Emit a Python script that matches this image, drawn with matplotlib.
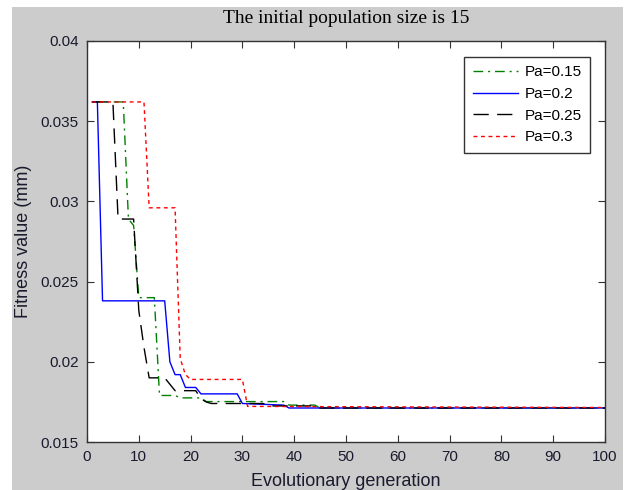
import matplotlib
matplotlib.use("Agg")
import matplotlib.pyplot as plt
from matplotlib.patches import Rectangle

# generations where each curve changes value, and the fitness read at them
gen_015 = [1, 7, 8, 9, 10, 13, 14, 17, 18, 22, 23, 38, 39, 44, 45, 100]
fit_015 = [0.0362, 0.0362, 0.0289, 0.0285, 0.0240, 0.0240, 0.0179, 0.0179,
           0.01775, 0.01775, 0.01752, 0.01752, 0.0173, 0.0173, 0.01712, 0.01712]

gen_02 = [1, 2, 3, 15, 16, 17, 18, 19, 21, 22, 29, 30, 38, 39, 100]
fit_02 = [0.0362, 0.0362, 0.0238, 0.0238, 0.0200, 0.0192, 0.0192, 0.0184,
          0.0184, 0.0180, 0.0180, 0.0174, 0.0173, 0.01712, 0.01712]

gen_025 = [1, 5, 6, 9, 10, 11, 12, 15, 16, 17, 21, 22, 23, 24, 34, 35, 44, 45, 100]
fit_025 = [0.0362, 0.0362, 0.0289, 0.0289, 0.0232, 0.0209, 0.0190, 0.0190,
           0.0186, 0.0182, 0.0182, 0.0177, 0.0175, 0.0174, 0.0174, 0.01725,
           0.01725, 0.01712, 0.01712]

gen_03 = [1, 11, 12, 17, 18, 19, 20, 30, 31, 100]
fit_03 = [0.0362, 0.0362, 0.0296, 0.0296, 0.0202, 0.0192, 0.0189, 0.0189,
          0.01722, 0.01715]

xticks = [0, 10, 20, 30, 40, 50, 60, 70, 80, 90, 100]
yticks = [0.015, 0.02, 0.025, 0.03, 0.035, 0.04]
ytick_labels = ["0.015", "0.02", "0.025", "0.03", "0.035", "0.04"]

sans = "Liberation Sans"
serif = "Liberation Serif"
txt_color = "#1a1a2e"

fig = plt.figure(figsize=(6.3, 4.9), dpi=100, facecolor="white")
# gray matlab-style figure panel with a thin white margin
fig.patches.append(Rectangle((12 / 630, 0), (623 - 12) / 630, 1 - 7 / 490,
                             transform=fig.transFigure, facecolor="#cccccc",
                             edgecolor="none", zorder=-10))
ax = fig.add_axes([87 / 630, 1 - 442 / 490, (605 - 87) / 630, (442 - 41) / 490])
ax.set_facecolor("white")

ax.plot(gen_015, fit_015, color="#008000", lw=1.0, dashes=(7, 3.5, 1.5, 3.5),
        label="Pa=0.15")
ax.plot(gen_02, fit_02, color="#0000ff", lw=1.0, label="Pa=0.2")
ax.plot(gen_025, fit_025, color="black", lw=1.0, dashes=(11, 6),
        label="Pa=0.25")
ax.plot(gen_03, fit_03, color="#ff0000", lw=1.0, dashes=(2.8, 2.6),
        label="Pa=0.3")

ax.set_xlim(0, 100)
ax.set_ylim(0.015, 0.04)
ax.set_xticks(xticks)
ax.set_yticks(yticks)
ax.set_yticklabels(ytick_labels)
ax.tick_params(direction="in", top=True, right=True, length=5, width=0.8,
               labelsize=11, colors=txt_color, pad=6)
ax.tick_params(axis="both", color="#333333")
for lab in ax.get_xticklabels() + ax.get_yticklabels():
    lab.set_fontfamily(sans)
for s in ax.spines.values():
    s.set_color("#333333")
    s.set_linewidth(1.0)

ax.set_xlabel("Evolutionary generation", fontsize=13, family=sans,
              color=txt_color, labelpad=6)
ax.set_ylabel("Fitness value (mm)", fontsize=13, family=sans,
              color=txt_color, labelpad=6)
ax.set_title("The initial population size is 15", fontsize=14, family=serif,
             color="black", pad=13)

leg = ax.legend(loc="upper right", bbox_to_anchor=(503 / 518, 385 / 401),
                borderaxespad=0, fancybox=False, framealpha=1,
                edgecolor="#333333", handlelength=3.0, handletextpad=0.4,
                labelspacing=0.5, borderpad=0.55,
                prop={"family": sans, "size": 11})
leg.get_frame().set_linewidth(1.0)

fig.savefig("out.png", dpi=100, facecolor=fig.get_facecolor())
